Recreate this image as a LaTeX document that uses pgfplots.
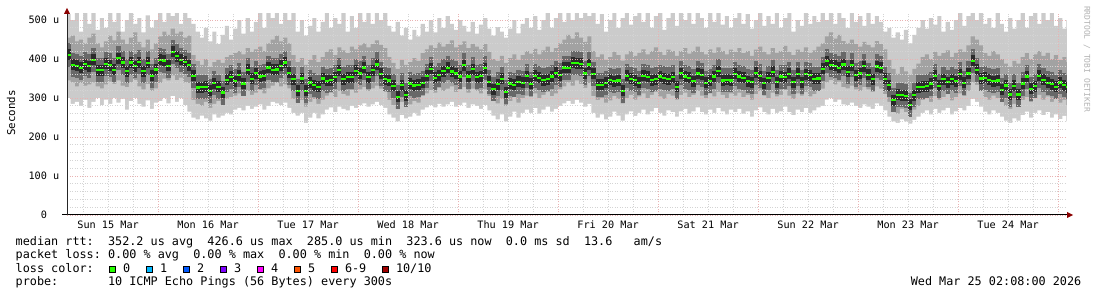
\documentclass[border=0pt]{standalone}
\usepackage{fontspec}
\setmainfont{DejaVu Sans Mono}
\usepackage{pgfplots}
\usepackage{pgfplotstable}
\pgfplotsset{compat=1.18}
\frenchspacing
\definecolor{smokeA}{HTML}{CBCBCB}
\definecolor{smokeB}{HTML}{A2A2A2}
\definecolor{smokeC}{HTML}{686868}
\definecolor{smokeD}{HTML}{2A2A2A}
\definecolor{medgreen}{HTML}{26FF00}
\definecolor{gridM}{HTML}{E9B2B2}
\definecolor{gridm}{HTML}{D4D4D4}
\definecolor{arrowred}{HTML}{8B0000}
\definecolor{lcA}{HTML}{26FF00}
\definecolor{lcB}{HTML}{00B8FF}
\definecolor{lcC}{HTML}{0059FF}
\definecolor{lcD}{HTML}{7E00FF}
\definecolor{lcE}{HTML}{FF00FF}
\definecolor{lcF}{HTML}{FF5500}
\definecolor{lcG}{HTML}{FF0000}
\definecolor{lcH}{HTML}{A00000}
\newcommand\legfont{\fontsize{11.8}{14}\selectfont}
\pgfplotstableread{
t mn lo m hi mx
2 300 345 411 455 515
3 285 340 385 460 500
4 290 330 383 445 518
5 280 338 377 450 470
6 295 332 387 440 518
7 275 335 382 455 490
8 290 340 398 465 518
9 300 330 371 440 475
10 282 325 371 430 505
11 296 335 388 445 480
12 285 342 384 460 518
13 300 336 372 448 495
14 288 345 402 470 518
15 298 332 391 450 470
16 270 328 369 438 500
17 292 340 391 455 518
18 300 346 382 468 490
19 285 330 392 444 505
20 278 322 369 430 468
21 294 336 390 450 512
22 272 318 357 425 480
23 288 325 373 440 500
24 292 338 398 458 518
25 300 350 396 470 495
26 286 345 383 462 518
27 305 358 419 478 510
28 290 346 407 465 518
29 300 352 398 470 490
30 282 340 393 455 518
31 265 338 384 460 505
32 250 295 357 410 490
33 245 285 327 395 470
34 255 280 328 385 455
35 248 290 329 400 480
36 242 275 319 380 445
37 258 285 338 392 470
38 250 292 329 398 438
39 255 284 314 390 462
40 262 298 347 405 485
41 258 302 354 410 450
42 270 306 343 415 478
43 275 312 359 420 500
44 268 305 337 412 465
45 280 318 372 428 505
46 272 308 349 418 470
47 278 314 364 425 495
48 284 320 355 432 518
49 270 312 357 420 480
50 280 325 378 440 518
51 290 332 372 450 505
52 286 338 373 460 518
53 282 330 383 445 490
54 288 335 391 455 518
55 275 325 365 440 500
56 262 298 348 410 518
57 255 288 319 392 470
58 262 295 350 402 500
59 236 278 319 385 460
60 250 290 340 398 485
61 262 298 333 410 505
62 248 285 329 392 470
63 258 296 350 405 495
64 270 306 344 418 518
65 276 314 346 425 480
66 264 302 353 410 505
67 278 318 371 430 490
68 272 310 348 422 518
69 268 306 353 415 470
70 280 320 353 432 510
71 275 314 370 425 480
72 282 322 363 435 518
73 286 328 378 440 495
74 278 318 353 430 518
75 284 325 371 438 490
76 290 332 386 448 518
77 282 324 362 436 500
78 275 316 348 428 518
79 258 295 345 405 485
80 250 282 331 390 470
81 240 272 303 375 495
82 256 290 333 398 460
83 248 280 307 385 480
84 252 284 337 392 450
85 262 292 332 402 475
86 255 288 334 395 458
87 270 305 339 415 490
88 276 312 357 425 470
89 282 320 375 435 500
90 276 314 352 428 468
91 285 326 358 442 505
92 278 318 369 432 480
93 284 324 377 438 510
94 290 330 368 448 490
95 278 316 363 430 475
96 282 322 355 436 500
97 288 328 384 445 485
98 275 314 355 428 470
99 284 324 374 438 495
100 280 318 353 432 465
101 272 312 356 425 488
102 282 322 376 438 505
103 268 305 342 418 478
104 255 292 323 400 460
105 245 286 335 395 482
106 258 298 349 408 470
107 240 280 315 390 455
108 252 292 337 402 478
109 265 302 334 412 500
110 250 288 342 398 466
111 262 300 339 410 490
112 270 306 356 420 505
113 262 302 336 414 480
114 274 312 357 426 510
115 260 300 352 412 475
116 270 308 346 422 500
117 278 316 348 432 518
118 265 305 355 418 480
119 272 312 365 428 505
120 280 322 359 440 518
121 286 330 378 450 495
122 292 340 377 462 518
123 285 332 390 452 500
124 295 345 389 468 518
125 288 336 388 455 505
126 278 326 363 444 518
127 285 338 386 458 510
128 262 305 362 420 518
129 250 295 334 405 490
130 258 300 334 412 515
131 245 288 339 398 470
132 252 294 347 405 500
133 265 305 343 418 518
134 255 298 345 410 480
135 242 286 319 396 505
136 258 300 357 412 518
137 266 308 349 420 488
138 254 296 346 408 510
139 262 304 339 416 518
140 270 312 357 425 495
141 258 300 354 412 518
142 266 308 346 420 480
143 274 316 348 430 510
144 262 304 355 418 518
145 255 298 351 410 475
146 268 310 348 424 505
147 264 306 353 420 518
148 252 296 329 408 485
149 266 308 364 420 518
150 272 314 355 428 500
151 260 302 352 414 518
152 266 308 343 420 490
153 276 318 363 432 518
154 264 306 360 418 505
155 258 300 339 412 480
156 270 312 344 425 518
157 262 304 355 416 495
158 274 316 369 430 518
159 266 308 345 420 488
160 258 300 347 412 510
161 270 312 345 424 480
162 264 306 362 418 505
163 272 314 355 428 518
164 260 302 352 415 490
165 266 308 343 420 515
166 252 296 341 408 478
167 268 310 365 424 500
168 276 318 356 432 518
169 264 306 338 418 485
170 258 300 352 412 510
171 272 314 367 428 490
172 262 304 341 416 518
173 266 308 355 420 480
174 278 320 353 434 505
175 264 306 362 418 518
176 256 298 341 410 470
177 270 312 362 424 500
178 264 306 341 418 485
179 274 316 361 430 518
180 262 304 358 416 490
181 268 310 349 422 510
182 276 318 350 432 495
183 280 324 375 440 518
184 296 340 394 458 500
185 300 346 385 468 518
186 290 335 383 452 490
187 296 342 377 462 518
188 284 328 386 446 505
189 282 325 367 440 480
190 288 332 384 450 518
191 280 322 359 438 495
192 275 318 363 432 510
193 284 328 382 444 485
194 278 322 360 436 518
195 272 316 348 430 490
196 286 330 381 446 510
197 280 324 377 438 495
198 268 310 349 425 470
199 252 290 333 398 480
200 240 268 294 375 455
201 236 260 308 362 468
202 245 272 307 380 450
203 240 264 306 368 475
204 234 258 283 360 440
205 244 270 307 375 462
206 252 280 328 388 480
207 262 295 329 405 500
208 268 300 330 412 478
209 258 290 337 400 505
210 272 305 357 418 488
211 262 296 331 408 510
212 268 302 348 415 470
213 275 310 341 422 495
214 258 294 348 405 475
215 266 302 343 416 500
216 274 312 361 425 518
217 268 305 339 418 485
218 280 318 363 435 510
219 298 340 395 458 518
220 290 334 372 450 500
221 278 318 350 435 518
222 265 302 352 415 490
223 258 296 347 408 505
224 268 306 343 420 480
225 262 300 345 412 518
226 252 290 321 400 490
227 242 280 332 388 470
228 236 272 309 380 505
229 248 285 331 395 478
230 242 278 309 388 500
231 256 295 337 405 518
232 265 302 355 415 480
233 250 290 324 400 510
234 262 300 330 412 518
235 268 308 357 420 490
236 256 296 347 408 518
237 264 304 339 416 500
238 250 290 335 400 518
239 258 298 329 410 485
240 246 288 340 398 505
241 254 295 333 405 478
242 240 282 328 392 500
243 240 282 328 392 500
}\pingdata
\begin{document}
\begin{tikzpicture}[x=1pt,y=1pt]
\begin{axis}[
  at={(67pt,82pt)}, anchor=south west,
  scale only axis, width=1000pt, height=202pt,
  xmin=2.133, xmax=242.133, ymin=0, ymax=518,
  axis line style={draw=none},
  axis on top,
  xtick={24,48,...,240}, xticklabels={},
  minor xtick={6,12,...,240},
  extra x ticks={12,36,...,228},
  extra x tick labels={Sun 15 Mar,Mon 16 Mar,Tue 17 Mar,Wed 18 Mar,Thu 19 Mar,Fri 20 Mar,Sat 21 Mar,Sun 22 Mar,Mon 23 Mar,Tue 24 Mar},
  extra x tick style={grid=none, major tick length=0pt},
  ytick={0,100,...,500},
  yticklabels={0\hphantom{uu},100 u,200 u,300 u,400 u,500 u},
  minor y tick num=4,
  grid=both,
  major grid style={draw=gridM, dash pattern=on 1pt off 1.5pt, line width=0.9pt},
  minor grid style={draw=gridm, dash pattern=on 1pt off 1.5pt, line width=0.9pt},
  major tick length=0pt, minor tick length=0pt,
  tick label style={font=\fontsize{10.2}{12}\selectfont},
  xticklabel style={anchor=base, yshift=-13pt},
  yticklabel style={anchor=east, inner sep=0pt, xshift=-7.5pt},
]
\addplot[const plot mark left, draw=none, fill=smokeA] table[x=t,y=mx]{\pingdata} \closedcycle;
\addplot[const plot mark left, draw=none, fill=smokeB] table[x=t,y=hi]{\pingdata} \closedcycle;
\addplot[const plot mark left, draw=none, fill=smokeA] table[x=t,y=lo]{\pingdata} \closedcycle;
\addplot[const plot mark left, draw=none, fill=white] table[x=t,y=mn]{\pingdata} \closedcycle;
\addplot[jump mark left, draw=smokeC, line width=24pt] table[x=t,y=m]{\pingdata};
\addplot[jump mark left, draw=smokeD, line width=11pt] table[x=t,y=m]{\pingdata};
\addplot[jump mark left, draw=medgreen, line width=2.2pt] table[x=t,y=m]{\pingdata};
\end{axis}
% axis lines and arrows
\draw[black, line width=1pt] (62,82) -- (1068,82);
\draw[black!85, line width=1pt] (67,82) -- (67,284);
\fill[arrowred] (1073,82) -- (1067,85) -- (1067,79) -- cycle;
\fill[arrowred] (67,289) -- (64,283) -- (70,283) -- cycle;
% y label
\node[rotate=90, font=\fontsize{10.8}{12}\selectfont, inner sep=0pt] at (11,184) {Seconds};
% watermark
\node[rotate=-90, font=\fontsize{8}{9}\selectfont, text=black!30, inner sep=0pt] at (1087,238) {RRDTOOL / TOBI OETIKER};
% legend lines
\node[anchor=base west, inner sep=0pt, font=\legfont] at (15.5,51.5) {median rtt:\ \ 352.2 us avg\ \ 426.6 us max\ \ 285.0 us min\ \ 323.6 us now\ \ 0.0 ms sd\ \ 13.6\ \ \ am/s};
\node[anchor=base west, inner sep=0pt, font=\legfont] at (15.5,38) {packet loss: 0.00 \% avg\ \ 0.00 \% max\ \ 0.00 \% min\ \ 0.00 \% now};
\node[anchor=base west, inner sep=0pt, font=\legfont] at (15.5,24.5) {loss color:};
\node[anchor=base west, inner sep=0pt, font=\legfont] at (15.5,11) {probe:\ \ \ \ \ \ \ 10 ICMP Echo Pings (56 Bytes) every 300s};
\node[anchor=base east, inner sep=0pt, font=\legfont] at (1081.5,11) {Wed Mar 25 02:08:00 2026};
% loss colour swatches
\foreach \xx/\cc/\ll in {109/lcA/0,146/lcB/1,183/lcC/2,220/lcD/3,257/lcE/4,294/lcF/5,331/lcG/6-9}{
  \draw[black, line width=1pt, fill=\cc] (\xx+0.5,24.5) rectangle (\xx+6.5,30.5);
  \node[anchor=base west, inner sep=0pt, font=\legfont] at (\xx+13.8,24.5) {\ll};
}
\draw[black, line width=1pt, fill=lcH] (382.5,24.5) rectangle (388.5,30.5);
\node[anchor=base west, inner sep=0pt, font=\legfont] at (395.8,24.5) {10/10};
\pgfresetboundingbox
\path[use as bounding box] (0,0) rectangle (1097,297);
\end{tikzpicture}
\end{document}
